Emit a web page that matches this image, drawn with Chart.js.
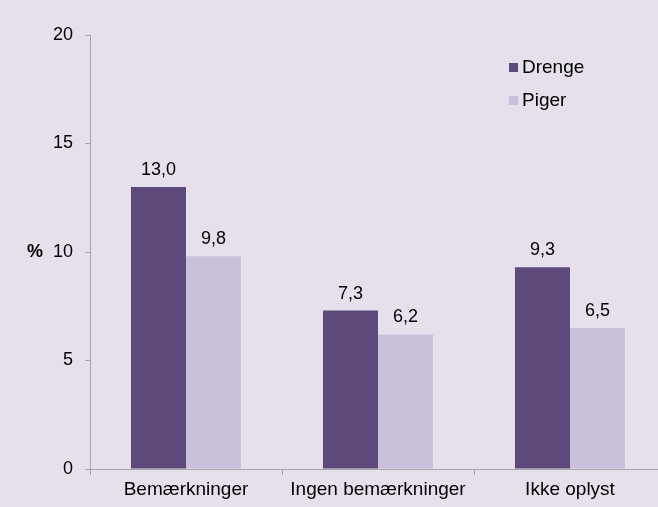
<!DOCTYPE html>
<html lang="da">
<head>
  <meta charset="UTF-8" />
  <title>Drenge og piger</title>
  <script src="https://cdn.jsdelivr.net/npm/chart.js"></script>
  <style>
    html, body { margin: 0; padding: 0; overflow: hidden; background: #e6e0ed; }
    #wrap { width: 666px; height: 507px; }
  </style>
</head>
<body>
  <div id="wrap"><canvas id="chart" width="666" height="507"></canvas></div>
  <script>
    const categories = ["Bemærkninger", "Ingen bemærkninger", "Ikke oplyst"];
    const drenge = [13.0, 7.3, 9.3];
    const piger = [9.8, 6.2, 6.5];
    const yTicks = [0, 5, 10, 15, 20];

    const FONT = "'Liberation Sans', Arial, sans-serif";
    const AXIS = "#a6a6a6";

    // value labels, legend and "%" title drawn on the canvas
    const extras = {
      id: "extras",
      afterDatasetsDraw(chart) {
        const ctx = chart.ctx;
        ctx.save();
        ctx.font = "18px " + FONT;
        ctx.fillStyle = "#000";
        ctx.textAlign = "center";
        ctx.textBaseline = "alphabetic";
        chart.data.datasets.forEach((ds, i) => {
          chart.getDatasetMeta(i).data.forEach((bar, j) => {
            ctx.fillText(ds.data[j].toFixed(1).replace(".", ","), bar.x, bar.y - 12);
          });
        });

        // legend
        ctx.font = "19px " + FONT;
        ctx.textAlign = "left";
        ctx.textBaseline = "middle";
        chart.data.datasets.forEach((ds, i) => {
          const y = 68 + i * 33;
          ctx.fillStyle = ds.backgroundColor;
          ctx.fillRect(509, y - 5, 9, 9);
          ctx.fillStyle = "#000";
          ctx.fillText(ds.label, 522, y);
        });

        // axis title
        ctx.font = "bold 18px " + FONT;
        ctx.textAlign = "center";
        ctx.fillText("%", 35, 252);
        ctx.restore();
      }
    };

    new Chart(document.getElementById("chart"), {
      type: "bar",
      data: {
        labels: categories,
        datasets: [
          { label: "Drenge", data: drenge, backgroundColor: "#5d4a7b" },
          { label: "Piger", data: piger, backgroundColor: "#cbc0db" }
        ]
      },
      options: {
        responsive: false,
        animation: false,
        layout: { padding: { top: 35, right: 0, left: 0, bottom: 0 } },
        datasets: { bar: { categoryPercentage: 0.573, barPercentage: 1.0 } },
        plugins: { legend: { display: false }, tooltip: { enabled: false } },
        scales: {
          x: {
            offset: true,
            grid: { display: true, drawOnChartArea: false, color: AXIS, tickLength: 6, offset: true },
            border: { display: true, color: AXIS, width: 1 },
            ticks: { color: "#000", font: { size: 19, family: FONT }, padding: 3 },
            afterFit(scale) { scale.height = 38; }
          },
          y: {
            min: 0,
            max: 20,
            afterBuildTicks(scale) { scale.ticks = yTicks.map(v => ({ value: v })); },
            grid: { display: true, drawOnChartArea: false, color: AXIS, tickLength: 5 },
            border: { display: true, color: AXIS, width: 1 },
            ticks: { color: "#000", font: { size: 18, family: FONT }, padding: 12 },
            afterFit(scale) { scale.width = 90; }
          }
        }
      },
      plugins: [extras]
    });
  </script>
</body>
</html>
